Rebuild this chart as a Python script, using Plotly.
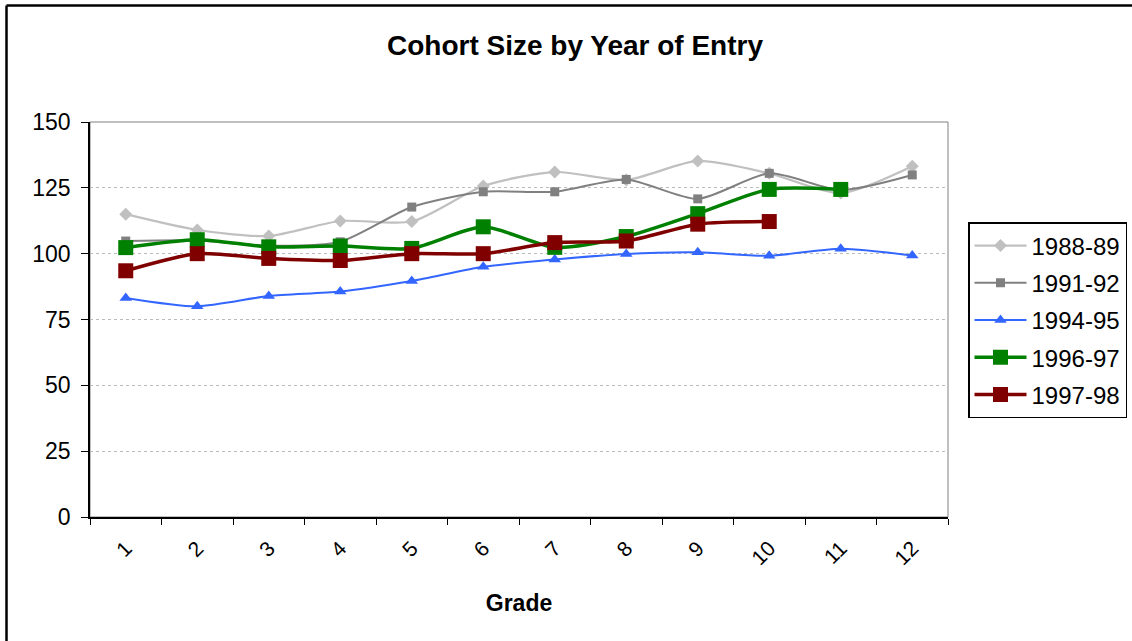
import plotly.graph_objects as go

grades = ["1", "2", "3", "4", "5", "6", "7", "8", "9", "10", "11", "12"]
s1988 = [115, 109, 106.7, 112.4, 112.2, 125.7, 131, 128, 135.2, 130.5, 123, 133.2]
s1991 = [104.8, 105, 103, 104.5, 117.7, 123.5, 123.5, 128.2, 120.8, 130.5, 124.2, 129.9]
s1994 = [83.2, 80, 83.9, 85.6, 89.6, 95, 97.8, 99.9, 100.5, 99.2, 101.9, 99.3]
s1996 = [102.3, 105.3, 102.6, 102.9, 102, 110.2, 102.4, 106.5, 115.2, 124.4, 124.4, None]
s1997 = [93.5, 100, 98.2, 97.4, 100, 100, 104.2, 104.8, 111.2, 112.2, None, None]
names = ["1988-89", "1991-92", "1994-95", "1996-97", "1997-98"]

series = [s1988, s1991, s1994, s1996, s1997]
colors = ["#C0C0C0", "#808080", "#3366FF", "#008000", "#800000"]
symbols = ["diamond", "square", "triangle-up", "square", "square"]
msizes = [10, 9, 11, 15, 15]
lwidths = [2.2, 2, 2, 3.5, 3.5]

fig = go.Figure()
for i, (nm, ys) in enumerate(zip(names, series)):
    fig.add_trace(go.Scatter(
        x=grades, y=ys, name=nm, mode="lines+markers",
        line=dict(color=colors[i], width=lwidths[i], shape="spline", smoothing=0.7),
        marker=dict(symbol=symbols[i], size=msizes[i], color=colors[i]),
        legendgroup=nm, connectgaps=False,
    ))

L, R, T, B = 90, 184, 122, 124
W, H = 1132, 641
pw, ph = W - L - R, H - T - B

def px_x(x):
    return (x - L) / pw

def px_y(y):
    return (H - B - y) / ph

fig.update_layout(
    width=W, height=H,
    margin=dict(l=L, r=R, t=T, b=B),
    paper_bgcolor="white", plot_bgcolor="white",
    font=dict(family="Arial, Liberation Sans, sans-serif", color="black", size=22),
    title=dict(text="<b>Cohort Size by Year of Entry</b>", x=575 / W, xanchor="center",
               y=1 - 45 / H, yanchor="middle", font=dict(size=28)),
    showlegend=True,
    legend=dict(xref="container", yref="container", x=968 / W, y=1 - 222 / H,
                xanchor="left", yanchor="top",
                bordercolor="black", borderwidth=1.5, bgcolor="white",
                font=dict(size=24), tracegroupgap=3, traceorder="grouped",
                itemwidth=52),
    xaxis=dict(type="category", range=[-0.5, len(grades) - 0.5], autorange=False,
               tickson="boundaries", ticks="outside", ticklen=6,
               tickcolor="black", showline=True, linecolor="black", linewidth=1.5,
               tickangle=-45, showgrid=False, tickfont=dict(size=21),
               ticklabelstandoff=9,
               title=dict(text="<b>Grade</b>", font=dict(size=23), standoff=27)),
    yaxis=dict(range=[0, 150], dtick=25, ticks="outside", ticklen=7, tickcolor="black",
               showline=True, linecolor="black", linewidth=1.5,
               showgrid=True, gridcolor="#BBBBBB", griddash="dot", gridwidth=1,
               tickfont=dict(size=23), zeroline=False, ticklabelstandoff=6),
    shapes=[
        dict(type="rect", xref="paper", yref="paper", x0=0, x1=1, y0=0, y1=1,
             line=dict(color="#808080", width=1), layer="below"),
        dict(type="line", xref="paper", yref="paper", x0=px_x(6.5), x1=px_x(6.5),
             y0=px_y(5.5), y1=px_y(H + 5), line=dict(color="black", width=2.5)),
        dict(type="line", xref="paper", yref="paper", x0=px_x(6.5), x1=px_x(W + 5),
             y0=px_y(5.5), y1=px_y(5.5), line=dict(color="black", width=2.5)),
    ],
)

fig.write_html("out.html", config={"displayModeBar": False},
               post_script="document.body.style.margin='0';")
